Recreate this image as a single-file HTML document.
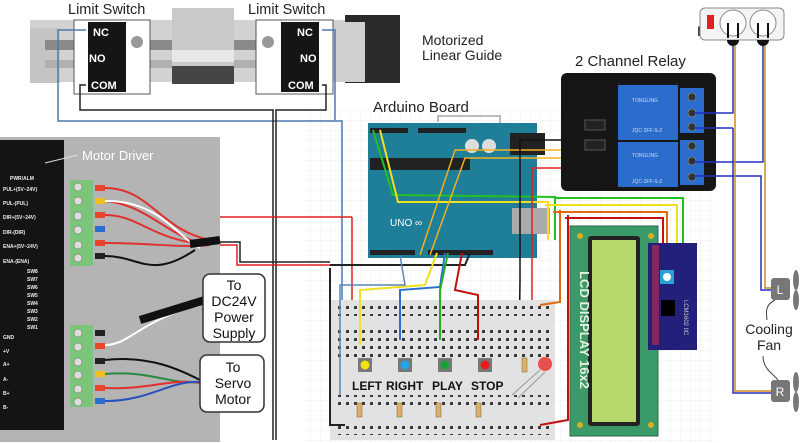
<!DOCTYPE html>
<html><head><meta charset="utf-8"><style>
html,body{margin:0;padding:0;background:#fff;}
svg{display:block;font-family:"Liberation Sans","DejaVu Sans",sans-serif;}
</style></head><body>
<svg width="800" height="443" viewBox="0 0 800 443" xmlns="http://www.w3.org/2000/svg">
<defs>
<pattern id="grid" width="10" height="10" patternUnits="userSpaceOnUse"><path d="M10 0H0V10" fill="none" stroke="#eceff2" stroke-width="1"/></pattern>
<pattern id="holes" width="8" height="8" patternUnits="userSpaceOnUse"><rect x="2" y="2" width="3" height="3" fill="#3a3a3a"/></pattern>
</defs>
<rect x="0" y="0" width="800" height="443" fill="#fff"/>
<rect x="305" y="110" width="410" height="333" fill="url(#grid)"/>

<!-- Linear guide -->
<rect x="30" y="20" width="370" height="62" fill="#d2d2d2"/>
<rect x="30" y="28" width="30" height="55" fill="#c4c4c4"/>
<rect x="45" y="40" width="340" height="10" fill="#8a8a8a"/>
<rect x="45" y="60" width="340" height="8" fill="#b0b0b0"/>
<rect x="172" y="8" width="62" height="58" fill="#c9c9c9"/>
<rect x="172" y="50" width="62" height="12" fill="#e8e8e8"/>
<rect x="172" y="66" width="62" height="18" fill="#444"/>
<rect x="345" y="15" width="55" height="68" fill="#2a2a2a"/>
<rect x="330" y="22" width="35" height="60" fill="#cfcfcf"/>
<text x="68" y="14" font-size="14.5" fill="#222">Limit Switch</text>
<text x="248" y="14" font-size="14.5" fill="#222">Limit Switch</text>
<rect x="74" y="20" width="76" height="74" fill="#fff" stroke="#555"/>
<rect x="256" y="20" width="77" height="74" fill="#fff" stroke="#555"/>
<rect x="88" y="22" width="38" height="70" fill="#151515"/>
<rect x="281" y="22" width="38" height="70" fill="#151515"/>
<text x="93" y="36" font-size="11" font-weight="bold" fill="#fff">NC</text>
<text x="89" y="62" font-size="11" font-weight="bold" fill="#fff">NO</text>
<text x="91" y="89" font-size="11" font-weight="bold" fill="#fff">COM</text>
<text x="297" y="36" font-size="11" font-weight="bold" fill="#fff">NC</text>
<text x="300" y="62" font-size="11" font-weight="bold" fill="#fff">NO</text>
<text x="288" y="89" font-size="11" font-weight="bold" fill="#fff">COM</text>
<circle cx="137" cy="42" r="6" fill="#999"/><circle cx="268" cy="42" r="6" fill="#999"/>
<text x="422" y="45" font-size="14" fill="#222">Motorized</text>
<text x="422" y="60" font-size="14" fill="#222">Linear Guide</text>

<!-- limit switch wires -->
<polyline points="86,30 58,30 58,121 342,121 342,440" fill="none" stroke="#4a7ab0" stroke-width="1.5"/>
<polyline points="322,30 335,30 335,120" fill="none" stroke="#4a7ab0" stroke-width="1.5"/>
<polyline points="86,85 80,85 80,110 273,110 273,440" fill="none" stroke="#222" stroke-width="1.5"/>
<polyline points="322,85 326,85 326,110 276,110 276,440" fill="none" stroke="#222" stroke-width="1.5"/>

<!-- Motor driver photo -->
<rect x="0" y="137" width="220" height="305" fill="#b4b4b4"/>
<rect x="0" y="140" width="64" height="290" fill="#141414"/>
<text x="82" y="160" font-size="13" fill="#fff">Motor Driver</text>
<line x1="45" y1="163" x2="78" y2="155" stroke="#ddd"/>
<g font-size="5" fill="#eee" font-weight="bold">
<text x="10" y="180">PWR/ALM</text><text x="3" y="191">PUL+(5V~24V)</text><text x="3" y="205">PUL-(PUL)</text>
<text x="3" y="219">DIR+(5V~24V)</text><text x="3" y="234">DIR-(DIR)</text><text x="3" y="248">ENA+(5V~24V)</text><text x="3" y="263">ENA-(ENA)</text>
<text x="27" y="273">SW8</text><text x="27" y="281">SW7</text><text x="27" y="289">SW6</text><text x="27" y="297">SW5</text><text x="27" y="305">SW4</text><text x="27" y="313">SW3</text><text x="27" y="321">SW2</text><text x="27" y="329">SW1</text>
<text x="3" y="339">GND</text><text x="3" y="353">+V</text><text x="3" y="366">A+</text><text x="3" y="381">A-</text><text x="3" y="395">B+</text><text x="3" y="409">B-</text>
</g>
<rect x="70" y="180" width="23" height="86" fill="#7cc47a"/>
<rect x="70" y="325" width="23" height="82" fill="#7cc47a"/>
<g fill="#ddd" stroke="#666" stroke-width="0.5">
<circle cx="78" cy="187" r="4"/><circle cx="78" cy="201" r="4"/><circle cx="78" cy="216" r="4"/><circle cx="78" cy="230" r="4"/><circle cx="78" cy="245" r="4"/><circle cx="78" cy="258" r="4"/>
<circle cx="78" cy="333" r="4"/><circle cx="78" cy="347" r="4"/><circle cx="78" cy="362" r="4"/><circle cx="78" cy="375" r="4"/><circle cx="78" cy="389" r="4"/><circle cx="78" cy="402" r="4"/>
</g>
<rect x="95" y="185" width="10" height="6" fill="#e8452a"/><rect x="95" y="198" width="10" height="6" fill="#f0c020"/><rect x="95" y="212" width="10" height="6" fill="#e8452a"/><rect x="95" y="226" width="10" height="6" fill="#2a6fd0"/><rect x="95" y="240" width="10" height="6" fill="#e8452a"/><rect x="95" y="253" width="10" height="6" fill="#222"/>
<path d="M105 188 C150 188 160 230 210 240 M105 201 C150 205 170 240 210 245 M105 215 C140 215 150 240 210 245 M105 243 C150 243 180 248 210 245" stroke="#e03030" stroke-width="2" fill="none"/>
<path d="M105 201 C160 200 180 240 200 248" stroke="#fff" stroke-width="2" fill="none"/>
<path d="M105 256 C140 256 150 280 195 250" stroke="#111" stroke-width="2" fill="none"/>
<path d="M190 244 L220 240" stroke="#111" stroke-width="8"/>
<rect x="95" y="330" width="10" height="6" fill="#222"/><rect x="95" y="343" width="10" height="6" fill="#e8452a"/><rect x="95" y="358" width="10" height="6" fill="#222"/><rect x="95" y="371" width="10" height="6" fill="#f0c020"/><rect x="95" y="385" width="10" height="6" fill="#e8452a"/><rect x="95" y="398" width="10" height="6" fill="#2a6fd0"/>
<path d="M105 345 C130 345 140 320 200 305" stroke="#fff" stroke-width="2" fill="none"/>
<path d="M140 320 L205 300" stroke="#111" stroke-width="8"/>
<path d="M105 374 C150 370 170 385 200 382" stroke="#2a8a40" stroke-width="2" fill="none"/>
<path d="M105 388 C150 390 170 378 200 383" stroke="#e03030" stroke-width="2" fill="none"/>
<path d="M105 401 C150 401 170 380 200 382" stroke="#2a50c0" stroke-width="2" fill="none"/>
<path d="M105 360 C150 355 180 370 200 380" stroke="#111" stroke-width="2" fill="none"/>

<!-- power lines from driver -->
<polyline points="220,217 352,217" fill="none" stroke="#e02020" stroke-width="1.5"/>
<polyline points="220,242 240,242 240,262 330,262" fill="none" stroke="#222" stroke-width="1.5"/>
<polyline points="220,245 237,245 237,265 330,265" fill="none" stroke="#e02020" stroke-width="1.5"/>

<rect x="203" y="274" width="62" height="68" rx="7" fill="#fff" stroke="#333" stroke-width="1.5"/>
<rect x="200" y="355" width="64" height="57" rx="7" fill="#fff" stroke="#333" stroke-width="1.5"/>
<g font-size="14" fill="#111" text-anchor="middle">
<text x="234" y="290">To</text><text x="234" y="306">DC24V</text><text x="234" y="322">Power</text><text x="234" y="338">Supply</text>
<text x="233" y="372">To</text><text x="233" y="388">Servo</text><text x="233" y="404">Motor</text>
</g>

<!-- Arduino -->
<text x="373" y="112" font-size="15" fill="#222">Arduino Board</text>
<polyline points="438,122 438,116 500,116 500,255" fill="none" stroke="#bbb" stroke-width="2"/>
<path d="M368 123 H537 V258 H368 Z" fill="#1f7e98"/>
<rect x="370" y="128" width="38" height="5" fill="#222"/><rect x="418" y="128" width="48" height="5" fill="#222"/>
<rect x="370" y="158" width="100" height="12" fill="#222"/>
<rect x="510" y="133" width="35" height="22" fill="#222"/>
<circle cx="472" cy="146" r="7" fill="#ddd"/><circle cx="489" cy="146" r="7" fill="#ddd"/>
<rect x="512" y="208" width="38" height="26" fill="#aaa"/>
<rect x="370" y="250" width="45" height="5" fill="#222"/><rect x="428" y="250" width="65" height="5" fill="#222"/>
<text x="390" y="226" font-size="10" fill="#fff">UNO ∞</text>
<polyline points="373,130 393,195 555,197 555,240" fill="none" stroke="#22c020" stroke-width="2"/>
<polyline points="380,130 398,202 548,202 548,240" fill="none" stroke="#f0e020" stroke-width="2"/>
<polyline points="563,150 455,150 420,255" fill="none" stroke="#f0b020" stroke-width="1.5"/>
<polyline points="563,158 465,158 430,255" fill="none" stroke="#f0b020" stroke-width="1.5"/>
<polyline points="563,140 520,140 520,280 518,440" fill="none" stroke="#111" stroke-width="1.5"/>
<polyline points="563,168 532,168 532,300" fill="none" stroke="#e02020" stroke-width="1.5"/>
<polyline points="352,217 352,305" fill="none" stroke="#e02020" stroke-width="1.5"/>

<!-- Breadboard -->
<rect x="330" y="300" width="225" height="140" fill="#e2e2e2"/>
<rect x="335" y="306" width="215" height="10" fill="url(#holes)"/>
<rect x="335" y="330" width="215" height="30" fill="url(#holes)"/>
<rect x="335" y="395" width="215" height="12" fill="url(#holes)"/>
<rect x="335" y="425" width="215" height="10" fill="url(#holes)"/>
<polyline points="330,268 330,425 345,425" fill="none" stroke="#222" stroke-width="2"/>
<polyline points="330,265 465,265 470,253" fill="none" stroke="#222" stroke-width="2"/>
<polyline points="360,345 360,290 425,285 437,253" fill="none" stroke="#f0e020" stroke-width="2"/>
<polyline points="400,340 400,290 440,287 445,253" fill="none" stroke="#2a70d0" stroke-width="2"/>
<polyline points="440,340 440,290 448,253" fill="none" stroke="#22b020" stroke-width="2"/>
<polyline points="478,340 478,295 455,290 462,253" fill="none" stroke="#c01010" stroke-width="2"/>
<polyline points="400,255 405,285 385,285 340,285 340,395" fill="none" stroke="#5a85b5" stroke-width="1.5"/>
<polyline points="560,210 560,302 540,305" fill="none" stroke="#e06a10" stroke-width="2"/>
<polyline points="568,215 568,420 540,425" fill="none" stroke="#c01010" stroke-width="2"/>
<polyline points="553,212 667,212 667,245" fill="none" stroke="#e06a10" stroke-width="2"/>
<polyline points="565,218 663,218 663,245" fill="none" stroke="#c01010" stroke-width="2"/>
<polyline points="545,205 677,205 677,245" fill="none" stroke="#f0e020" stroke-width="2"/>
<polyline points="555,198 683,198 683,245" fill="none" stroke="#22c020" stroke-width="2"/>
<g><rect x="358" y="358" width="14" height="14" fill="#777"/><circle cx="365" cy="365" r="4.5" fill="#f5e010"/>
<rect x="398" y="358" width="14" height="14" fill="#777"/><circle cx="405" cy="365" r="4.5" fill="#20a8e8"/>
<rect x="438" y="358" width="14" height="14" fill="#777"/><circle cx="445" cy="365" r="4.5" fill="#1a9e3a"/>
<rect x="478" y="358" width="14" height="14" fill="#777"/><circle cx="485" cy="365" r="4.5" fill="#e81a1a"/></g>
<g font-size="12" font-weight="bold" fill="#111">
<text x="352" y="390">LEFT</text><text x="386" y="390">RIGHT</text><text x="432" y="390">PLAY</text><text x="471" y="390">STOP</text>
</g>
<g fill="#d9b070" stroke="#8a6020" stroke-width="0.5"><rect x="357" y="403" width="5" height="14"/><rect x="397" y="403" width="5" height="14"/><rect x="436" y="403" width="5" height="14"/><rect x="476" y="403" width="5" height="14"/><rect x="522" y="358" width="5" height="14"/></g>
<circle cx="545" cy="364" r="7" fill="#e85050"/>
<path d="M512 395 L540 370 M518 398 L545 372" stroke="#999" stroke-width="1"/>

<!-- LCD -->
<rect x="570" y="226" width="88" height="210" fill="#3a9a68" stroke="#2a6a48"/>
<rect x="588" y="236" width="52" height="190" rx="3" fill="#222"/>
<rect x="592" y="240" width="44" height="182" fill="#b7d86a"/>
<text x="580" y="330" font-size="13" font-weight="bold" fill="#e8f0e0" transform="rotate(90 580 330)" text-anchor="middle">LCD DISPLAY 16x2</text>
<circle cx="580" cy="236" r="3" fill="#d4b020"/><circle cx="651" cy="236" r="3" fill="#d4b020"/><circle cx="580" cy="425" r="3" fill="#d4b020"/><circle cx="651" cy="425" r="3" fill="#d4b020"/>
<rect x="648" y="243" width="49" height="107" fill="#22207a"/>
<rect x="652" y="245" width="7" height="100" fill="#c03050" opacity="0.6"/>
<rect x="660" y="270" width="14" height="14" fill="#2aa0d8"/><circle cx="667" cy="277" r="4" fill="#fff"/>
<rect x="661" y="300" width="14" height="16" fill="#000"/>
<text x="684" y="300" font-size="6" fill="#ccc" transform="rotate(90 684 300)">LCM1602 IIC</text>

<!-- Relay -->
<text x="575" y="66" font-size="15" fill="#222">2 Channel Relay</text>
<rect x="561" y="73" width="155" height="118" rx="6" fill="#161616"/>
<rect x="618" y="85" width="60" height="55" fill="#2a6dcc"/>
<rect x="618" y="142" width="60" height="45" fill="#2a6dcc"/>
<rect x="680" y="88" width="24" height="45" fill="#2a6dcc"/>
<rect x="680" y="140" width="24" height="45" fill="#2a6dcc"/>
<g fill="#333" stroke="#999" stroke-width="0.6"><circle cx="692" cy="97" r="4"/><circle cx="692" cy="113" r="4"/><circle cx="692" cy="127" r="4"/><circle cx="692" cy="146" r="4"/><circle cx="692" cy="161" r="4"/><circle cx="692" cy="177" r="4"/></g>
<g font-size="5" fill="#cde"><text x="632" y="102">TONGLING</text><text x="632" y="132">JQC-3FF-S-Z</text><text x="632" y="157">TONGLING</text><text x="632" y="183">JQC-3FF-S-Z</text></g>
<rect x="585" y="120" width="20" height="10" fill="#222" stroke="#555"/>
<rect x="585" y="140" width="20" height="10" fill="#222" stroke="#555"/>

<!-- Outlet -->
<text x="728" y="20" font-size="14" fill="#222" text-anchor="middle">220V</text>
<text x="697" y="36" font-size="14" fill="#222">Power Outlet</text>
<rect x="700" y="8" width="84" height="32" rx="5" fill="#f4f4f4" stroke="#888"/>
<rect x="707" y="15" width="7" height="14" fill="#e02020"/>
<circle cx="733" cy="23" r="13" fill="#fff" stroke="#888"/><circle cx="763" cy="23" r="13" fill="#fff" stroke="#888"/>
<path d="M728 23 V38 M738 23 V38 M758 23 V38 M768 23 V38" stroke="#111" stroke-width="2"/>
<path d="M727 40 a6 6 0 0 0 12 0Z M757 40 a6 6 0 0 0 12 0Z" fill="#111"/>
<polyline points="733,46 733,113 694,113" fill="none" stroke="#2030c0" stroke-width="1.5"/>
<polyline points="733,128 694,128" fill="none" stroke="#2030c0" stroke-width="1.5"/>
<polyline points="763,46 763,162 694,162" fill="none" stroke="#2030c0" stroke-width="1.5"/>
<polyline points="694,176 761,176 761,290 771,290" fill="none" stroke="#2030c0" stroke-width="1.5"/>
<polyline points="765,46 765,288 771,288" fill="none" stroke="#d08a20" stroke-width="1.5"/>
<polyline points="735,46 735,391 771,391" fill="none" stroke="#d08a20" stroke-width="1.5"/>
<polyline points="733,128 733,393 771,393" fill="none" stroke="#2030c0" stroke-width="1.5"/>

<!-- Fans -->
<rect x="771" y="278" width="19" height="22" rx="3" fill="#777"/><text x="780" y="294" font-size="12" fill="#fff" text-anchor="middle">L</text>
<rect x="771" y="380" width="19" height="22" rx="3" fill="#777"/><text x="780" y="396" font-size="12" fill="#fff" text-anchor="middle">R</text>
<ellipse cx="796" cy="280" rx="3" ry="10" fill="#777"/><ellipse cx="796" cy="300" rx="3" ry="10" fill="#777"/>
<ellipse cx="796" cy="382" rx="3" ry="10" fill="#777"/><ellipse cx="796" cy="402" rx="3" ry="10" fill="#777"/>
<text x="769" y="334" font-size="14" fill="#222" text-anchor="middle">Cooling</text>
<text x="769" y="350" font-size="14" fill="#222" text-anchor="middle">Fan</text>
<path d="M775 300 C765 305 766 312 767 320 M763 356 C763 370 775 375 778 380" fill="none" stroke="#444"/>
</svg>
</body></html>
